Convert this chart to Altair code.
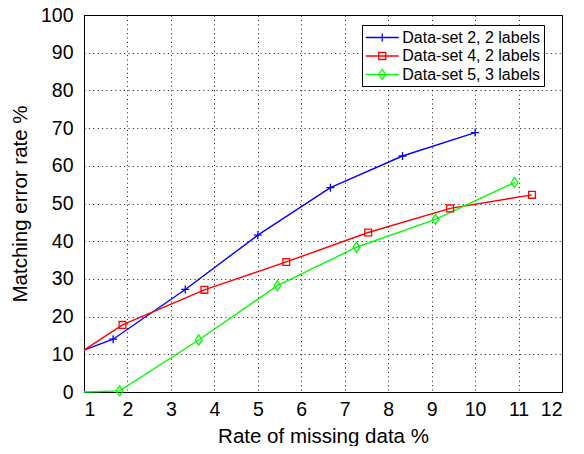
import altair as alt
import pandas as pd

series = ["Data-set 2, 2 labels", "Data-set 4, 2 labels", "Data-set 5, 3 labels"]

x_ds2 = [1, 1.67, 3.33, 5, 6.67, 8.33, 10]
y_ds2 = [11.1, 14.0, 27.2, 41.6, 54.2, 62.6, 68.8]

x_ds4 = [1, 1.885, 3.77, 5.655, 7.54, 9.425, 11.31]
y_ds4 = [11.1, 17.8, 27.1, 34.5, 42.3, 48.7, 52.3]

x_ds5 = [1, 1.82, 3.64, 5.45, 7.27, 9.09, 10.91]
y_ds5 = [0, 0.3, 13.8, 28.2, 38.4, 45.8, 55.6]

x_ticks = list(range(1, 13))
y_ticks = list(range(0, 101, 10))

colors = ["#0000ff", "#ff0000", "#00ff00"]
marker_paths = [
    "M-1,0H1M0,-1V1",
    "M-0.85,-0.85H0.85V0.85H-0.85Z",
    "M0,-1.25L0.85,0L0,1.25L-0.85,0Z",
]
legend_paths = [
    "M-1.886,0H1.886M0,-0.457V0.457",
    "M-1.886,0H1.886M-0.4,-0.4H0.4V0.4H-0.4Z",
    "M-1.886,0H1.886M0,-0.57L0.4,0L0,0.57L-0.4,0Z",
]

rows = []
for name, xs, ys in zip(series, [x_ds2, x_ds4, x_ds5], [y_ds2, y_ds4, y_ds5]):
    for xv, yv in zip(xs, ys):
        rows.append({"series": name, "rate": xv, "error": yv})
df = pd.DataFrame(rows)

legend = alt.Legend(
    title=None,
    orient="none",
    legendX=278,
    legendY=10,
    fillColor="white",
    strokeColor="black",
    padding=3,
    labelFont="Liberation Sans",
    labelFontSize=16,
    labelColor="black",
    labelOffset=10.5,
    labelExpr="datum.label + '\u00a0\u00a0'",
    symbolSize=306,
    symbolOffset=7.75,
    symbolStrokeWidth=1.3,
    symbolFillColor="transparent",
    rowPadding=0.5,
)

x = alt.X(
    "rate:Q",
    scale=alt.Scale(domain=[1, 12], nice=False, zero=False),
    axis=alt.Axis(values=x_ticks, title="Rate of missing data %", format="d"),
)
y = alt.Y(
    "error:Q",
    scale=alt.Scale(domain=[0, 100], nice=False),
    axis=alt.Axis(values=y_ticks, title="Matching error rate %", format="d"),
)
color_scale = alt.Scale(domain=series, range=colors)

series_layers = []
for name, col in zip(series, colors):
    series_layers.append(
        alt.Chart(df)
        .transform_filter(f"datum.series == '{name}'")
        .mark_line(strokeWidth=1.4, color=col)
        .encode(x=x, y=y)
    )
for name, col, path in zip(series, colors, marker_paths):
    series_layers.append(
        alt.Chart(df)
        .transform_filter(f"datum.series == '{name}' && datum.rate > 1")
        .mark_point(filled=False, size=64, strokeWidth=1.3, opacity=1, shape=path, color=col)
        .encode(x=x, y=y)
    )

legend_layer = (
    alt.Chart(df)
    .transform_filter("false")
    .mark_point(filled=False, strokeWidth=1.3, opacity=1)
    .encode(
        x=x,
        y=y,
        color=alt.Color("series:N", scale=color_scale, legend=legend),
        shape=alt.Shape("series:N", scale=alt.Scale(domain=series, range=legend_paths), legend=legend),
    )
)

chart = (
    alt.layer(*series_layers, legend_layer)
    .properties(
        width=478,
        height=377,
        padding={"left": 76, "top": 7, "right": 14, "bottom": 54},
        autosize=alt.AutoSizeParams(type="none"),
        background="white",
    )
    .configure_view(stroke="black", strokeWidth=1)
    .configure_axis(
        labelFont="Liberation Sans",
        titleFont="Liberation Sans",
        labelFontSize=19.5,
        titleFontSize=20.5,
        titleFontWeight="normal",
        labelColor="black",
        titleColor="black",
        domainColor="black",
        domainWidth=1,
        gridColor="black",
        gridDash=[1, 3.4],
        gridOpacity=0.9,
        gridWidth=1,
        ticks=False,
    )
    .configure_axisY(labelPadding=11, titlePadding=10)
    .configure_axisX(labelPadding=8, titlePadding=8)
)

chart.save("out.html", embed_options={"renderer": "svg", "actions": False})
